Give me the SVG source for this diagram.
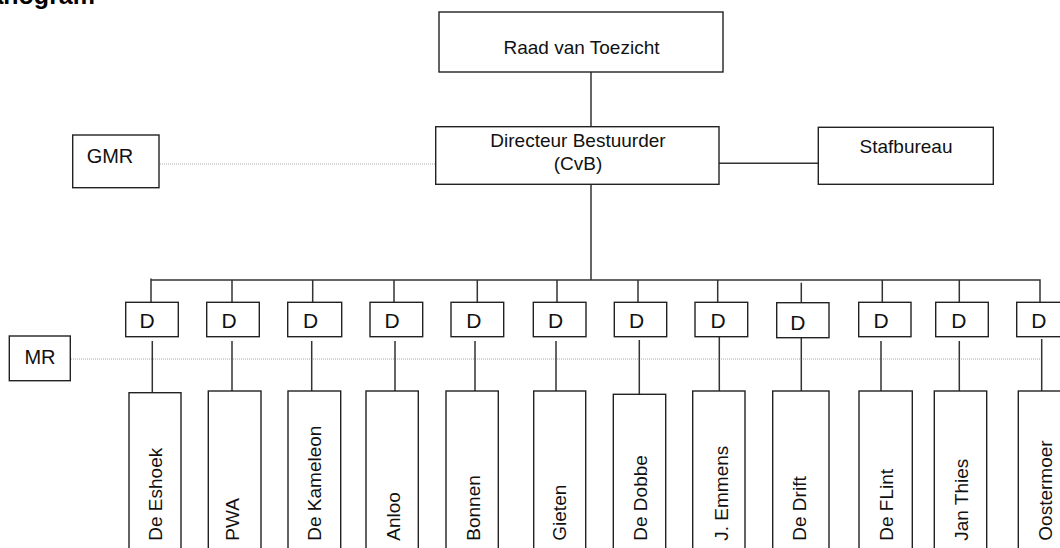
<svg xmlns="http://www.w3.org/2000/svg" width="1060" height="548" viewBox="0 0 1060 548">
<style>
  .box{fill:#fff;stroke:#222;stroke-width:1.4}
  .t{font-family:"Liberation Sans",Arial,sans-serif;font-size:19px;fill:#111;text-anchor:middle}
  .d{font-family:"Liberation Sans",Arial,sans-serif;font-size:21px;fill:#111;text-anchor:middle}
  .v{font-family:"Liberation Sans",Arial,sans-serif;font-size:19px;fill:#111}
  .c{stroke:#333;stroke-width:1.5;fill:none}
  .dot{stroke:#aaa;stroke-width:1.2;stroke-dasharray:1 1;fill:none}
  .title{font-family:"Liberation Sans",Arial,sans-serif;font-size:25px;font-weight:bold;fill:#000;text-anchor:end}
</style>
<rect width="1060" height="548" fill="#fff"/>
<text class="title" x="95" y="4">Organogram</text>

<g id="connectors">
  <path class="c" d="M591 72V127"/>
  <path class="c" d="M591 184.3V280"/>
  <path class="c" d="M719 163.3H818.3"/>
  <path class="dot" d="M160 164H435.7"/>
  <path class="dot" d="M71 359H1040"/>
  <path class="c" d="M151 280H1040V302.3"/>
  <path class="c" d="M151 278.5V302.3M232 280V302.3M312.7 280V302.3M394 280V302.3M477.3 280V302.3M557 280V302.3M638 280V302.3M717.7 280V302.3M801.3 282.7V302.7M882.3 280V302.3M959.3 280V302.3"/>
  <path class="c" d="M152.3 341V392.7M232 341V391M311.7 341V391M395 341V391M475 341V391M556 341V391M639.3 340V394.3M719.3 336.7V391M801.3 337.7V391M881 341V391M959.3 341V391M1041.7 339V391"/>
</g>

<g id="raad"><rect class="box" x="439" y="12" width="284" height="60"/><text class="t" x="581.5" y="54">Raad van Toezicht</text></g>
<g id="directeur"><rect class="box" x="435.7" y="126.7" width="283.3" height="57.6"/><text class="t" x="578" y="146.7">Directeur Bestuurder</text><text class="t" x="578" y="170">(CvB)</text></g>
<g id="stafbureau"><rect class="box" x="818.3" y="127.3" width="175" height="57"/><text class="t" x="906" y="153">Stafbureau</text></g>
<g id="gmr"><rect class="box" x="72.7" y="135" width="86.3" height="52.7"/><text class="t" style="font-size:20px" x="110" y="162.7">GMR</text></g>
<g id="mr"><rect class="box" x="9.3" y="336" width="61" height="44.7"/><text class="t" style="font-size:20px" x="40" y="364">MR</text></g>

<g id="d1"><rect class="box" x="125.7" y="302.3" width="52.6" height="34.4"/><text class="d" x="147.2" y="328.3">D</text></g>
<g id="d2"><rect class="box" x="206.7" y="302.3" width="52.6" height="34.4"/><text class="d" x="229.2" y="328.3">D</text></g>
<g id="d3"><rect class="box" x="287.7" y="302.3" width="54" height="34.4"/><text class="d" x="310.5" y="328.3">D</text></g>
<g id="d4"><rect class="box" x="370" y="302.3" width="52.7" height="34.4"/><text class="d" x="392.2" y="328.3">D</text></g>
<g id="d5"><rect class="box" x="451" y="302.3" width="52.7" height="34.4"/><text class="d" x="473.8" y="328.3">D</text></g>
<g id="d6"><rect class="box" x="533.3" y="302.3" width="52.7" height="34.4"/><text class="d" x="555.5" y="328.3">D</text></g>
<g id="d7"><rect class="box" x="614.3" y="302.3" width="52.4" height="34.4"/><text class="d" x="636.5" y="328.3">D</text></g>
<g id="d8"><rect class="box" x="695" y="302.3" width="52.7" height="34.4"/><text class="d" x="718.2" y="328.3">D</text></g>
<g id="d9"><rect class="box" x="776.7" y="302.7" width="52.3" height="35"/><text class="d" x="797.8" y="330">D</text></g>
<g id="d10"><rect class="box" x="858.7" y="302.3" width="52.3" height="34.4"/><text class="d" x="881.2" y="328.3">D</text></g>
<g id="d11"><rect class="box" x="935.7" y="302.3" width="52.6" height="34.4"/><text class="d" x="958.8" y="328.3">D</text></g>
<g id="d12"><rect class="box" x="1016.7" y="302.3" width="52.6" height="34.4"/><text class="d" x="1038.8" y="328.3">D</text></g>

<g id="s1"><rect class="box" x="129" y="392.7" width="52" height="170"/><text class="v" transform="translate(162.3 540.7) rotate(-90)">De Eshoek</text></g>
<g id="s2"><rect class="box" x="208.3" y="391" width="52.7" height="170"/><text class="v" transform="translate(239 540.7) rotate(-90)">PWA</text></g>
<g id="s3"><rect class="box" x="288" y="391" width="52.7" height="170"/><text class="v" transform="translate(320.6 540.7) rotate(-90)">De Kameleon</text></g>
<g id="s4"><rect class="box" x="366" y="391" width="52.3" height="170"/><text class="v" transform="translate(400 540.7) rotate(-90)">Anloo</text></g>
<g id="s5"><rect class="box" x="446" y="391" width="52.3" height="170"/><text class="v" transform="translate(480 540.7) rotate(-90)">Bonnen</text></g>
<g id="s6"><rect class="box" x="533.7" y="391" width="52" height="170"/><text class="v" transform="translate(566 540.7) rotate(-90)">Gieten</text></g>
<g id="s7"><rect class="box" x="613.3" y="394.3" width="52.4" height="170"/><text class="v" transform="translate(647 540.7) rotate(-90)">De Dobbe</text></g>
<g id="s8"><rect class="box" x="692.7" y="391" width="52.3" height="170"/><text class="v" transform="translate(728 540.7) rotate(-90)">J. Emmens</text></g>
<g id="s9"><rect class="box" x="772.7" y="391" width="56.3" height="170"/><text class="v" transform="translate(806 540.7) rotate(-90)">De Drift</text></g>
<g id="s10"><rect class="box" x="859" y="391" width="53.3" height="170"/><text class="v" transform="translate(893 540.7) rotate(-90)">De FLint</text></g>
<g id="s11"><rect class="box" x="934.3" y="391" width="52.4" height="170"/><text class="v" transform="translate(967.5 540.7) rotate(-90)">Jan Thies</text></g>
<g id="s12"><rect class="box" x="1018.3" y="391" width="52.7" height="170"/><text class="v" transform="translate(1052 540.7) rotate(-90)">Oostermoer</text></g>
</svg>
